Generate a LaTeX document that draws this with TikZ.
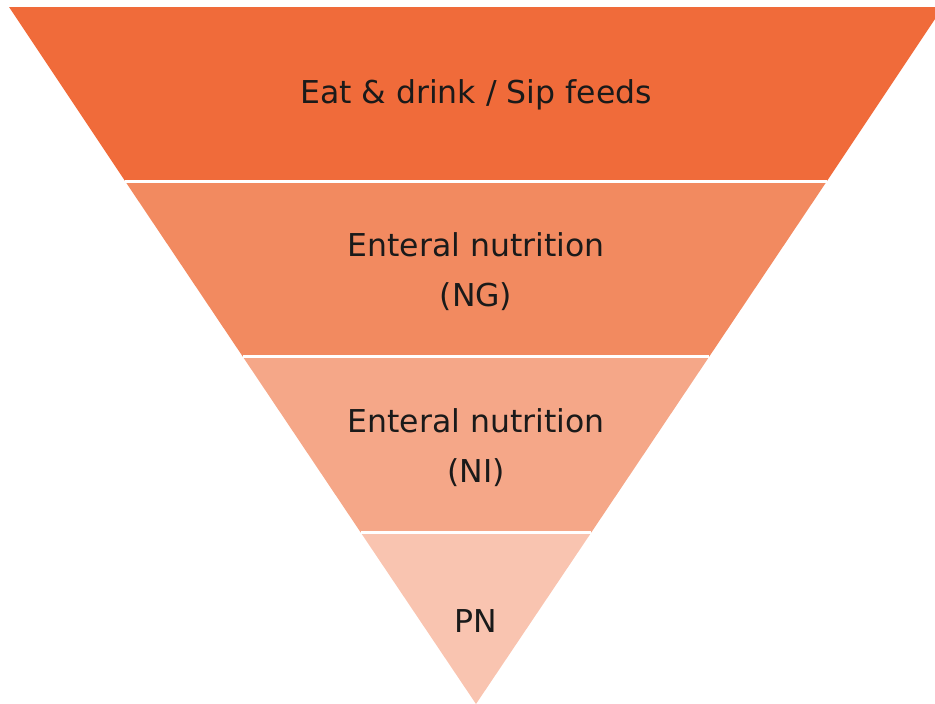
\documentclass[tikz,border=0pt]{standalone}
\usepackage{fontspec}
\setmainfont{DejaVu Sans}
\definecolor{bandA}{RGB}{240,107,58}
\definecolor{bandB}{RGB}{242,138,96}
\definecolor{bandC}{RGB}{245,167,136}
\definecolor{bandD}{RGB}{249,196,176}
\definecolor{txt}{RGB}{26,26,26}
\begin{document}
\begin{tikzpicture}[x=1pt,y=-1pt,
  sep/.style={draw=white,line width=3pt},
  lbl/.style={text=txt,font=\fontsize{31.5}{50}\selectfont,align=center,inner sep=0pt}]
\useasboundingbox (0,0) rectangle (935,704);
\begin{scope}
\clip (0,0) rectangle (935,704);
\coordinate (tl) at (9,7);
\coordinate (tr) at (943,7);
\coordinate (ap) at (476,704);
\coordinate (l1) at (125.2,181.3); \coordinate (r1) at (826.8,181.3);
\coordinate (l2) at (242.9,356.8); \coordinate (r2) at (709.1,356.8);
\coordinate (l3) at (360.6,532.3); \coordinate (r3) at (591.4,532.3);
\fill[bandA] (tl) -- (tr) -- (r1) -- (l1) -- cycle;
\fill[bandB] (l1) -- (r1) -- (r2) -- (l2) -- cycle;
\fill[bandC] (l2) -- (r2) -- (r3) -- (l3) -- cycle;
\fill[bandD] (l3) -- (r3) -- (ap) -- cycle;
\draw[sep] (l1) -- (r1);
\draw[sep] (l2) -- (r2);
\draw[sep] (l3) -- (r3);
\end{scope}
\node[lbl,anchor=base] (t1) at (476,103) {Eat \& drink / Sip feeds};
\node[lbl,anchor=base] (t2) at (476,306) {Enteral nutrition\\(NG)};
\node[lbl,anchor=base] (t3) at (476,482) {Enteral nutrition\\(NI)};
\node[lbl,anchor=base] (t4) at (476,632) {PN};
\end{tikzpicture}
\end{document}
